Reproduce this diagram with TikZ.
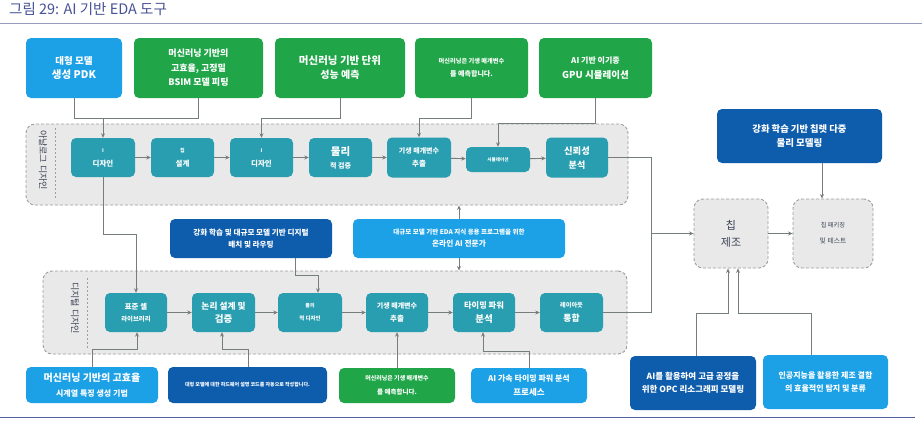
\documentclass[tikz,border=0pt]{standalone}
\usepackage{fontspec}
\setmainfont{Noto Sans CJK KR}
\usetikzlibrary{arrows.meta}
\definecolor{cLight}{RGB}{28,160,230}
\definecolor{cGreen}{RGB}{32,166,72}
\definecolor{cTeal}{RGB}{40,158,176}
\definecolor{cDark}{RGB}{14,92,172}
\definecolor{cGroup}{RGB}{233,233,233}
\definecolor{cDash}{RGB}{158,158,158}
\definecolor{cLine}{RGB}{118,125,125}
\definecolor{cText}{RGB}{60,66,86}
\definecolor{cTitle}{RGB}{72,82,150}
\newcommand\fz[2]{\fontsize{#1}{#2}\selectfont}
\tikzset{
 bx/.style={rounded corners=5pt, align=center, text=white, inner sep=1pt},
 lbx/.style={bx, fill=cLight},
 gbx/.style={bx, fill=cGreen},
 tbx/.style={bx, fill=cTeal},
 dbx/.style={bx, fill=cDark},
 grp/.style={draw=cDash, fill=cGroup, dash pattern=on 3pt off 2pt, line width=0.9pt, rounded corners=9pt},
 gbox/.style={grp, align=center, text=cText, inner sep=1pt},
 ln/.style={draw=cLine, line width=0.9pt},
 arr/.style={ln, -{Stealth[length=4.5pt,width=4pt]}},
 vlab/.style={rotate=-90, text=cText, font=\fz{9}{10}},
 bf/.style 2 args={font=\bfseries\fz{#1}{#2}},
}
\begin{document}
\begin{tikzpicture}[x=1pt, y=-1pt]
\useasboundingbox (0,0) rectangle (922,424);
\fill[white] (0,0) rectangle (922,424);
% title
\node[anchor=west, text=cTitle, font=\fz{14.5}{16}, inner sep=0] (title) at (9,9) {그림 29: AI 기반 EDA 도구};
\draw[draw={rgb,255:red,150;green,156;blue,190}, line width=0.8pt] (0,23) -- (922,23);
\draw[draw={rgb,255:red,80;green,95;blue,160}, line width=1pt] (0,417) -- (915,417);

% groups
\node[grp, minimum width=602pt, minimum height=81pt] (ag) at (327,164.5) {};
\node[grp, minimum width=584pt, minimum height=83pt] (dg) at (335,312.5) {};
\node[vlab] (agl) at (43,160) {아날로그 디자인};
\node[vlab] (dgl) at (75,308) {디지털 디자인};
\draw[cDash, dash pattern=on 2pt off 2pt, line width=0.5pt] (55,128) -- (55,200);
\draw[cDash, dash pattern=on 2pt off 2pt, line width=0.5pt] (87,278) -- (87,348);

% top boxes
\node[lbx, bf={10.5}{14}, minimum width=96pt, minimum height=60pt] (t1) at (74,68) {{\fz{9.5}{14}대형 모델}\\생성 PDK};
\node[gbx, bf={9}{14.5}, minimum width=129pt, minimum height=60pt] (t2) at (198.5,68) {머신러닝 기반의\\고효율, 고정밀\\BSIM 모델 피팅};
\node[gbx, bf={10}{14}, minimum width=130pt, minimum height=60pt] (t3) at (340,68) {{\fz{10.5}{14}머신러닝 기반 단위}\\성능 예측};
\node[gbx, bf={7}{13}, minimum width=113pt, minimum height=60pt] (t4) at (471.5,68) {{\fz{6.2}{13}머신러닝은 기생 매개변수}\\를 예측합니다.};
\node[gbx, bf={9.5}{15}, minimum width=113pt, minimum height=60pt] (t5) at (595.5,68) {{\fz{8}{15}AI 기반 이기종}\\GPU 시뮬레이션};

% analog nodes
\node[tbx, bf={7.5}{14}, minimum width=64pt, minimum height=39pt] (a1) at (103,157.5) {{\fz{5}{14}I}\\디자인};
\node[tbx, bf={7.5}{14}, minimum width=63pt, minimum height=39pt] (a2) at (182.5,157.5) {{\fz{5}{14}칩}\\설계};
\node[tbx, bf={7.5}{14}, minimum width=63pt, minimum height=39pt] (a3) at (261.5,157.5) {{\fz{5}{14}I}\\디자인};
\node[tbx, bf={7}{13}, minimum width=63pt, minimum height=39pt] (a4) at (340.5,157.5) {{\fz{10.5}{13}물리}\\적 검증};
\node[tbx, bf={7.5}{13}, minimum width=64pt, minimum height=40pt] (a5) at (419,157.5) {{\fz{7}{13}기생 매개변수}\\추출};
\node[tbx, bf={4.6}{5}, minimum width=64pt, minimum height=25pt] (a6) at (498,159.5) {시뮬레이션};
\node[tbx, bf={9}{14}, minimum width=62pt, minimum height=40pt] (a7) at (577,157.5) {{\fz{9.3}{14}신뢰성}\\분석};

% digital nodes
\node[tbx, bf={6.4}{12}, minimum width=62pt, minimum height=39pt] (d1) at (136,312.5) {{\fz{7.4}{12}표준 셀}\\라이브러리};
\node[tbx, bf={9.5}{13}, minimum width=63pt, minimum height=39pt] (d2) at (223.5,312.5) {{\fz{8.7}{13}논리 설계 및}\\검증};
\node[tbx, bf={5.5}{13}, minimum width=64pt, minimum height=39pt] (d3) at (310,312.5) {{\fz{5}{13}물리}\\적 디자인};
\node[tbx, bf={7.5}{13}, minimum width=62pt, minimum height=39pt] (d4) at (397,312.5) {{\fz{7}{13}기생 매개변수}\\추출};
\node[tbx, bf={9.5}{14}, minimum width=62pt, minimum height=39pt] (d5) at (484,312.5) {{\fz{8.2}{14}타이밍 파워}\\분석};
\node[tbx, bf={8.8}{14}, minimum width=63pt, minimum height=39pt] (d6) at (571.5,312.5) {{\fz{6.2}{14}레이아웃}\\통합};

% middle boxes
\node[dbx, bf={7.6}{12}, minimum width=162pt, minimum height=39pt] (db) at (251,238.5) {강화 학습 및 대규모 모델 기반 디지털\\배치 및 라우팅};
\node[lbx, bf={7.7}{12}, minimum width=212pt, minimum height=39pt] (lb) at (459,238.5) {{\fz{6.5}{12}대규모 모델 기반 EDA 지식 응용 프로그램을 위한}\\온라인 AI 전문가};

% right side
\node[dbx, bf={9.5}{14}, minimum width=165pt, minimum height=54pt] (rl) at (799.5,136) {{\fz{9.3}{14}강화 학습 기반 칩렛 다중}\\물리 모델링};
\node[gbox, font=\fz{11}{17}, minimum width=74pt, minimum height=69pt] (fab) at (731,233.5) {칩\\제조};
\node[gbox, font=\fz{6.8}{16}, minimum width=80pt, minimum height=69pt] (pack) at (833,233.5) {{\fz{6.2}{16}칩 패키징}\\및 테스트};
\node[dbx, bf={8.5}{13}, minimum width=126pt, minimum height=54pt] (opc) at (693,383) {AI를 활용하여 고급 공정을\\위한 OPC 리소그래피 모델링};
\node[lbx, bf={8}{13}, minimum width=125pt, minimum height=54pt] (aid) at (825.5,382) {인공지능을 활용한 제조 결함\\의 효율적인 탐지 및 분류};

% bottom boxes
\node[lbx, bf={8}{15}, minimum width=132pt, minimum height=36pt] (b1) at (92,385) {{\fz{10}{15}머신러닝 기반의 고효율}\\시계열 특징 생성 기법};
\node[dbx, bf={5}{6}, minimum width=159pt, minimum height=36pt] (b2) at (247.5,385) {대형 모델에 대한 하드웨어 설명 코드를 자동으로 작성합니다.};
\node[gbx, bf={6.5}{14}, minimum width=116pt, minimum height=35pt] (b3) at (397,385.5) {{\fz{6}{14}머신러닝은 기생 매개변수}\\를 예측합니다.};
\node[lbx, bf={8.5}{14}, minimum width=116pt, minimum height=35pt] (b4) at (529,385.5) {{\fz{8}{14}AI 가속 타이밍 파워 분석}\\프로세스};

% connectors top -> analog
\draw[ln] (t1.south) -- (t1.south |- 0,118) -- (t2.south |- 0,118) -- (t2.south);
\draw[arr] (a1.north |- 0,118) -- (a1.north);
\draw[arr] (t3.south) -- (t3.south |- 0,118) -- (a3.north |- 0,118) -- (a3.north);
\draw[arr] (t4.south) -- (t4.south |- 0,118) -- (a5.north |- 0,118) -- (a5.north);
\draw[arr] (t5.south) -- (t5.south |- 0,123) -- (a6.north |- 0,123) -- (a6.north);

% analog chain
\draw[arr] (a1) -- (a2);
\draw[arr] (a2) -- (a3);
\draw[arr] (a3) -- (a4);
\draw[arr] (a4) -- (a5);
\draw[arr] (a5) -- (a6);
\draw[arr] (a6) -- (a7);

% digital chain
\draw[arr] (d1) -- (d2);
\draw[arr] (d2) -- (d3);
\draw[arr] (d3) -- (d4);
\draw[arr] (d4) -- (d5);
\draw[arr] (d5) -- (d6);

% middle connectors
\draw[arr] (lb.north) -- (lb.north |- ag.south);
\draw[arr] (lb.south) -- (lb.south |- dg.north);
\draw[arr] (a1.south) -- (a1.south |- 0,234) -- (d1.north |- 0,234) -- (d1.north);
\draw[arr] (db.south -| 295,0) -- (295,275) -- (318,275) -- (318,0 |- d3.north);

% to fab
\coordinate (jx) at (651,233.5);
\draw[ln] (a7.east) -| (jx);
\draw[ln] (d6.east) -| (jx);
\draw[arr] (jx) -- (fab.west);
\draw[arr] (fab.east) -- (pack.west);
\draw[arr] (rl.south -| 822,0) -- (pack.north -| 822,0);
\draw[arr] (opc.north -| 696,0) -- (696,313) -- (728,313) -- (728,0 |- fab.south);
\draw[arr] (aid.north -| 811,0) -- (811,313) -- (738,313) -- (738,0 |- fab.south);

% bottom connectors
\draw[arr] (b1.north) -- (b1.north |- 0,349) -- (137,349) -- (137,0 |- d1.south);
\draw[arr] (b2.north -| 248,0) -- (248,349) -- (222,349) -- (222,0 |- d2.south);
\draw[arr] (b3.north) -- (d4.south);
\draw[arr] (b4.north) -- (b4.north |- 0,351) -- (483,351) -- (483,0 |- d5.south);
\end{tikzpicture}
\end{document}
